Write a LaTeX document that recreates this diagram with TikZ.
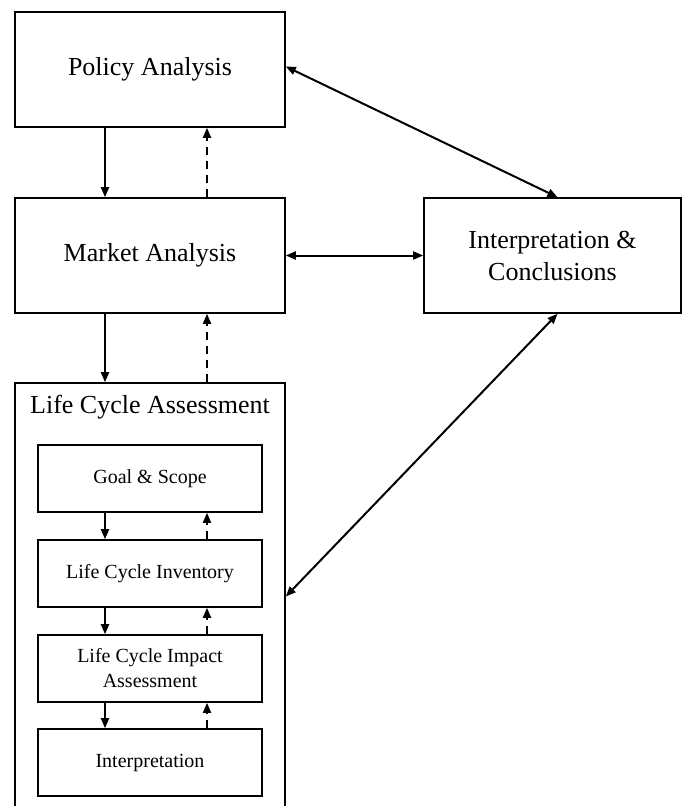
\documentclass[tikz,border=0pt]{standalone}
\usepackage{fontspec}
\setmainfont{Liberation Serif}
\usetikzlibrary{arrows.meta}
\begin{document}
\begin{tikzpicture}[x=1pt,y=-1pt,
  bigbox/.style={draw,line width=1.6pt,rectangle,minimum width=270pt,minimum height=115pt,
    align=center,font=\fontsize{26}{32}\selectfont,inner sep=0pt},
  smallbox/.style={draw,line width=1.6pt,rectangle,minimum width=224pt,minimum height=67pt,
    align=center,font=\fontsize{20}{25}\selectfont,inner sep=0pt},
  tip/.style={Triangle[length=10pt,width=8pt]},
  link/.style={line width=2pt,-{Triangle[length=10pt,width=8pt]}},
  backlink/.style={link,dash pattern=on 8pt off 6pt},
  twoway/.style={line width=2pt,{Triangle[length=10pt,width=8pt]}-{Triangle[length=10pt,width=8pt]}}]
\useasboundingbox (0,0) rectangle (683,806);

% outer framework boxes
\node[bigbox] (pol) at (150,69.5) {Policy Analysis};
\node[bigbox] (mkt) at (150,255.5) {Market Analysis};
\node[bigbox,minimum width=257pt] (int) at (552.5,255.5) {Interpretation \&\\Conclusions};

% life cycle assessment container (runs past the lower edge)
\node[draw,line width=1.6pt,rectangle,minimum width=270pt,minimum height=427pt,inner sep=0pt] (lca) at (150,596.5) {};
\node[font=\fontsize{26}{32}\selectfont] (lcat) at (150,407) {Life Cycle Assessment};

% LCA phases
\node[smallbox] (goal) at (150,478.5) {Goal \& Scope};
\node[smallbox] (inv)  at (150,573.5) {Life Cycle Inventory};
\node[smallbox] (imp)  at (150,668.5) {Life Cycle Impact\\Assessment};
\node[smallbox] (itp)  at (150,762.5) {Interpretation};

% forward (solid) and feedback (dashed) links
\draw[link] ([xshift=-45pt]pol.south) -- ([xshift=-45pt]mkt.north);
\draw[backlink] ([xshift=57pt]mkt.north) -- ([xshift=57pt]pol.south);
\draw[link] ([xshift=-45pt]mkt.south) -- ([xshift=-45pt]lca.north);
\draw[backlink] ([xshift=57pt]lca.north) -- ([xshift=57pt]mkt.south);

\draw[link] ([xshift=-45pt]goal.south) -- ([xshift=-45pt]inv.north);
\draw[backlink] ([xshift=57pt]inv.north) -- ([xshift=57pt]goal.south);
\draw[link] ([xshift=-45pt]inv.south) -- ([xshift=-45pt]imp.north);
\draw[backlink] ([xshift=57pt]imp.north) -- ([xshift=57pt]inv.south);
\draw[link] ([xshift=-45pt]imp.south) -- ([xshift=-45pt]itp.north);
\draw[backlink] ([xshift=57pt]itp.north) -- ([xshift=57pt]imp.south);

% two-way links to interpretation & conclusions
\draw[twoway] ([yshift=3pt]pol.east) -- ([xshift=5pt]int.north);
\draw[twoway] (mkt.east) -- (int.west);
\draw[twoway] (lca.east) -- ([xshift=5pt]int.south);
\end{tikzpicture}
\end{document}
